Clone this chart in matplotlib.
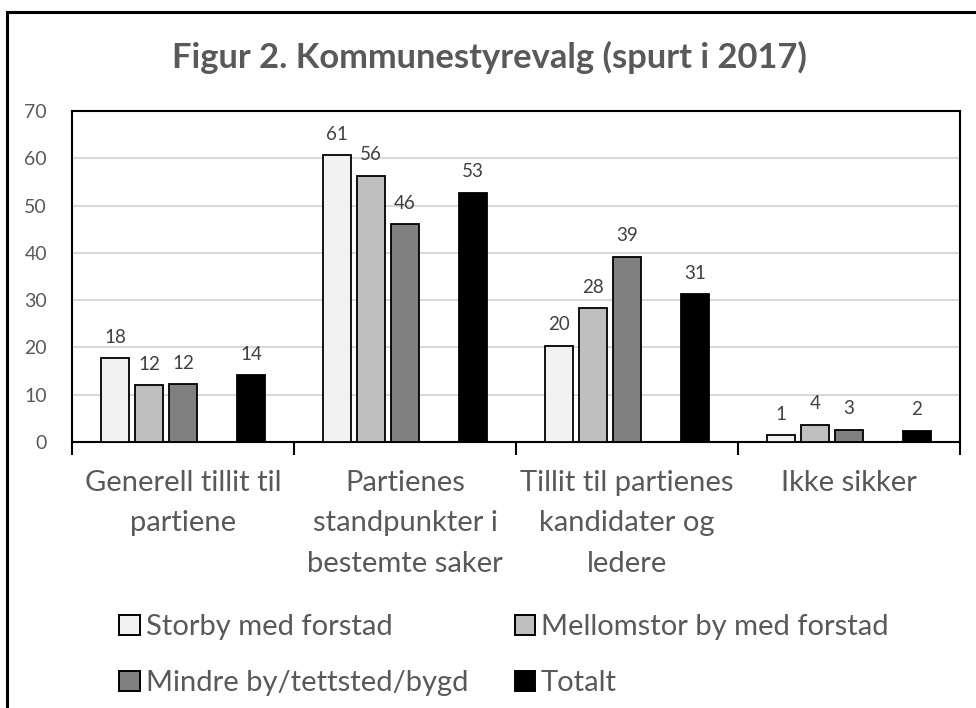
import matplotlib.pyplot as plt
from matplotlib.patches import Rectangle, Patch
import numpy as np

plt.rcParams['font.family'] = ['Lato', 'DejaVu Sans']

categories = ['Generell tillit til\npartiene', 'Partienes\nstandpunkter i\nbestemte saker',
              'Tillit til partienes\nkandidater og\nledere', 'Ikke sikker']
series = ['Storby med forstad', 'Mellomstor by med forstad', 'Mindre by/tettsted/bygd', 'Totalt']
storby = [17.7, 60.6, 20.4, 1.4]
mellomstor = [12.0, 56.3, 28.3, 3.6]
mindre = [12.2, 46.1, 39.2, 2.6]
totalt = [14.1, 52.7, 31.2, 2.4]

values = [storby, mellomstor, mindre, totalt]
colors = ['#F2F2F2', '#BFBFBF', '#808080', '#000000']
slots = [0, 1, 2, 4]   # the 4th slot is left empty, as in the original
grey = '#595959'

fig = plt.figure(figsize=(9.76, 7.08), dpi=100)
fig.patches.append(Rectangle((7/976, -0.1), 1.2, 1 - 12/708 + 0.1, transform=fig.transFigure,
                             fill=False, edgecolor='black', linewidth=2.2))
ax = fig.add_axes([72/976, 1 - 442/708, 888/976, 331/708])

x = np.arange(len(categories))
pitch = 0.153
width = 0.124
for vals, col, s, name in zip(values, colors, slots, series):
    pos = x + (s - 2) * pitch
    bars = ax.bar(pos, vals, width, color=col, edgecolor='black', linewidth=1.3, label=name, zorder=3)
    ax.bar_label(bars, labels=['%d' % round(v) for v in vals], padding=9, fontsize=13.5, color='#404040')

ax.set_xlim(-0.5, len(categories) - 0.5)
ax.set_ylim(0, 70)
ax.set_yticks(range(0, 71, 10))
ax.yaxis.grid(True, color='#D9D9D9', linewidth=1.5, zorder=0)
ax.tick_params(axis='y', length=0, labelsize=14, labelcolor=grey, pad=18)
ax.set_xticks(np.arange(-0.5, len(categories), 1))
ax.set_xticklabels([])
ax.tick_params(axis='x', length=9, width=1.5, color='black', direction='out')
ax.set_xticks(x, minor=True)
ax.set_xticklabels(categories, minor=True, fontsize=21, color=grey, linespacing=1.7)
ax.tick_params(axis='x', which='minor', length=0, pad=20)
for sp in ax.spines.values():
    sp.set_linewidth(1.5)
    sp.set_color('black')

fig.text(489/976, 1 - 57/708, 'Figur 2. Kommunestyrevalg (spurt i 2017)', ha='center', va='center',
         fontsize=24.8, fontweight='bold', color=grey)

# row-major order for a 2-column legend
order = [0, 2, 1, 3]
handles = [Patch(facecolor=colors[i], edgecolor='black', linewidth=1.4) for i in order]
fig.legend(handles, [series[i] for i in order], loc='upper left', bbox_to_anchor=(93/976, 1 - 588/708),
           ncol=2, frameon=False, fontsize=21, labelcolor=grey, handlelength=0.7, handleheight=0.7,
           handletextpad=0.2, columnspacing=1.6, labelspacing=1.02)

fig.savefig('out.png', dpi=100)
